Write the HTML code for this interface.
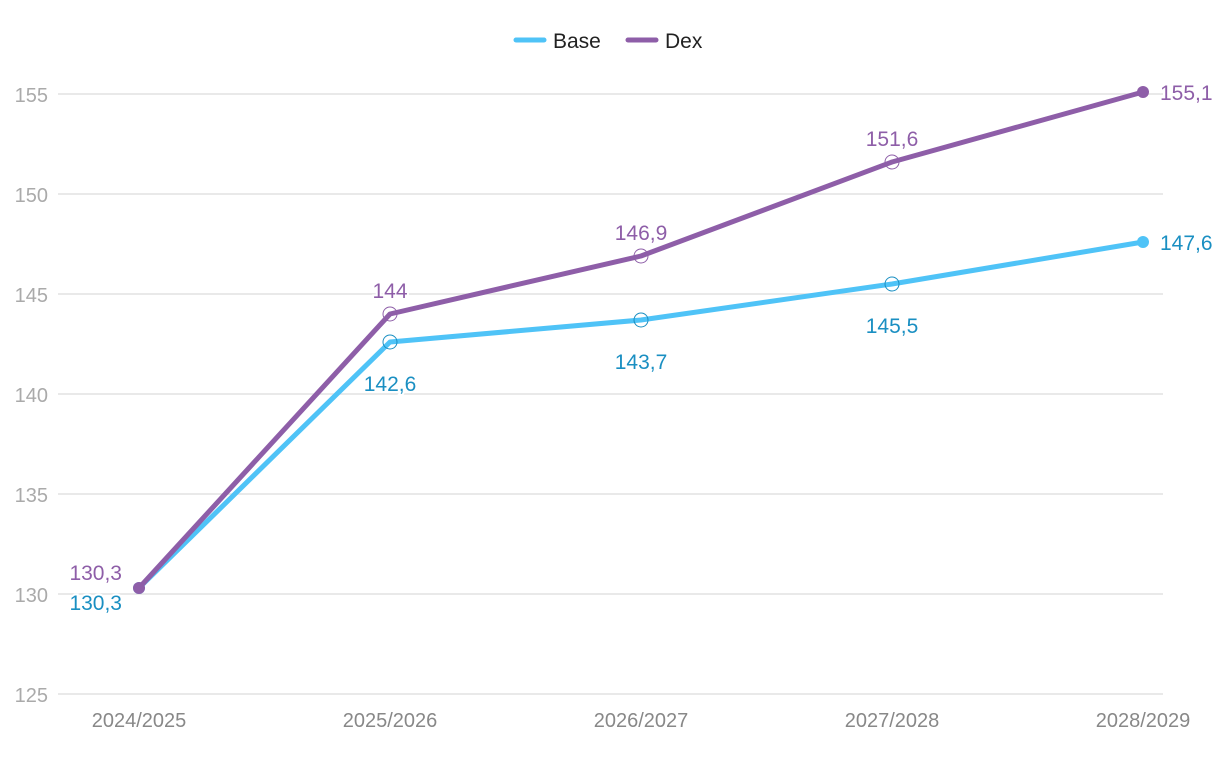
<!DOCTYPE html>
<html><head><meta charset="utf-8"><style>
body{margin:0;background:#fff;font-family:"Liberation Sans",sans-serif;}
svg text{font-family:"Liberation Sans",sans-serif;}
</style></head><body>
<svg id="chart" width="1220" height="754">
<g id="grid"></g><g id="series"></g><g id="labels"></g>
<g>
<g><line x1="516" y1="40" x2="544" y2="40" stroke="#4fc3f7" stroke-width="5" stroke-linecap="round"/><text x="553" y="48" font-size="21" fill="#222">Base</text></g>
<g><line x1="628" y1="40" x2="656" y2="40" stroke="#8e5ea8" stroke-width="5" stroke-linecap="round"/><text x="665" y="48" font-size="21" fill="#222">Dex</text></g>
</g>
</svg>
<script>
const categories=["2024/2025","2025/2026","2026/2027","2027/2028","2028/2029"];
const baseValues=[130.3,142.6,143.7,145.5,147.6];
const dexValues=[130.3,144,146.9,151.6,155.1];
const yTicks=[125,130,135,140,145,150,155];
const NS="http://www.w3.org/2000/svg";
function x(i){return 139+i*251;}
function y(v){return 694-(v-125)*20;}
function el(t,a,p){const e=document.createElementNS(NS,t);for(const k in a)e.setAttribute(k,a[k]);p.appendChild(e);return e;}
const grid=document.getElementById('grid'),ser=document.getElementById('series'),lab=document.getElementById('labels');
yTicks.forEach(v=>{
 const l=el('line',{x1:58,x2:1163,y1:y(v),y2:y(v),stroke:'#e2e2e2','stroke-width':1.5},grid);
 
 
 const t=el('text',{x:48,y:y(v)+8,'text-anchor':'end','font-size':20,fill:'#aaa'},grid);
 t.textContent=v;
 
 
});
categories.forEach((c,i)=>{
 const t=el('text',{x:x(i),y:727,'text-anchor':'middle','font-size':20,fill:'#888'},grid);
 t.textContent=c;
 
 
});
function fmt(v){return String(v).replace('.',',');}
function draw(vals,color,labColor,name,above){
 const pts=vals.map((v,i)=>x(i)+','+y(v)).join(' ');
 const pl=el('polyline',{points:pts,fill:'none',stroke:color,'stroke-width':5,'stroke-linejoin':'round'},ser);
 
 
 vals.forEach((v,i)=>{
  const end=(i==0||i==vals.length-1);
  const c=el('circle',{cx:x(i),cy:y(v),r:end?6:7,fill:end?color:'none',stroke:end?color:labColor,'stroke-width':end?0:1},ser);
  
  
  let tx=x(i),ty,anc='middle';
  if(i==0){tx=x(i)-17;anc='end';ty=above?y(v)-8:y(v)+22;}
  else if(i==vals.length-1){tx=x(i)+17;anc='start';ty=y(v)+8;}
  else ty=above?y(v)-16:y(v)+49;
  const t=el('text',{x:tx,y:ty,'text-anchor':anc,'font-size':21,fill:labColor,stroke:'#fff','stroke-width':4,'paint-order':'stroke'},lab);
  t.textContent=fmt(v);
  
  
 });
}
draw(baseValues,'#4fc3f7','#1a8fc2','base',false);
draw(dexValues,'#8e5ea8','#8e5ea8','dex',true);
// base first label above
</script>
</body></html>
